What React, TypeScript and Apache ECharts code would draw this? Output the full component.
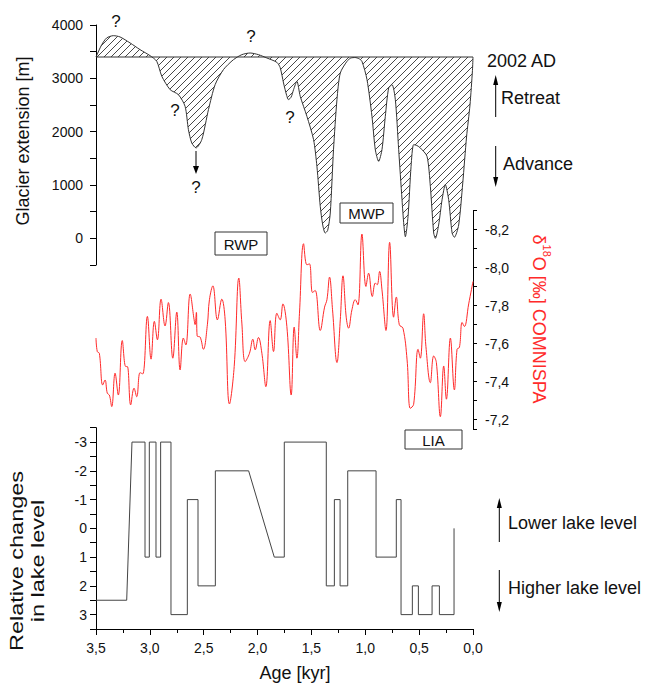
import React, { useEffect, useRef } from 'react';
import * as echarts from 'echarts';

// ---------- data ----------
const glacierAge = [3.5, 3.447, 3.401, 3.339, 3.277, 3.184, 3.091, 2.998, 2.936, 2.889, 2.812, 2.735, 2.673, 2.642, 2.611, 2.571, 2.518, 2.456, 2.394, 2.317, 2.224, 2.146, 2.069, 1.992, 1.914, 1.821, 1.790, 1.759, 1.730, 1.713, 1.688, 1.666, 1.635, 1.604, 1.542, 1.480, 1.449, 1.418, 1.395, 1.372, 1.349, 1.325, 1.295, 1.263, 1.232, 1.170, 1.135, 1.093, 1.060, 1.031, 0.984, 0.938, 0.907, 0.876, 0.845, 0.814, 0.783, 0.752, 0.721, 0.690, 0.659, 0.642, 0.628, 0.603, 0.575, 0.551, 0.520, 0.489, 0.427, 0.396, 0.365, 0.349, 0.319, 0.287, 0.257, 0.226, 0.194, 0.173, 0.133, 0.095, 0.060, 0.028, 0.005, 0.0];
const glacierExt = [3400, 3630, 3757, 3800, 3776, 3664, 3538, 3425, 3319, 3038, 2788, 2694, 2475, 2038, 1788, 1695, 1850, 2413, 2882, 3163, 3350, 3444, 3475, 3444, 3382, 3300, 3200, 2913, 2680, 2600, 2650, 2788, 2944, 2663, 2288, 1850, 1350, 600, 250, 100, 150, 475, 1663, 2600, 3100, 3319, 3380, 3390, 3370, 3319, 2975, 2288, 1663, 1444, 1663, 2288, 2819, 2882, 2600, 1663, 725, 250, 30, 413, 1350, 1756, 1740, 1695, 1538, 975, 100, 0, 250, 725, 1006, 725, 100, 20, 250, 1040, 1900, 2500, 3150, 3400];
const baselineAge = [3.5, 0.0];
const baselineExt = [3400, 3400];

const isoAge = [3.5, 3.488, 3.469, 3.438, 3.416, 3.395, 3.376, 3.354, 3.323, 3.293, 3.256, 3.224, 3.209, 3.178, 3.147, 3.122, 3.091, 3.066, 3.023, 2.989, 2.958, 2.930, 2.896, 2.859, 2.828, 2.787, 2.750, 2.719, 2.689, 2.666, 2.626, 2.589, 2.580, 2.568, 2.561, 2.533, 2.503, 2.466, 2.447, 2.415, 2.373, 2.332, 2.301, 2.261, 2.217, 2.174, 2.146, 2.115, 2.075, 2.044, 2.022, 1.992, 1.960, 1.923, 1.883, 1.852, 1.821, 1.790, 1.765, 1.728, 1.688, 1.660, 1.635, 1.611, 1.573, 1.542, 1.518, 1.490, 1.465, 1.418, 1.378, 1.356, 1.332, 1.304, 1.263, 1.232, 1.207, 1.177, 1.155, 1.124, 1.093, 1.068, 1.031, 0.994, 0.969, 0.935, 0.907, 0.889, 0.867, 0.845, 0.808, 0.774, 0.737, 0.712, 0.684, 0.650, 0.612, 0.582, 0.551, 0.510, 0.489, 0.458, 0.437, 0.396, 0.365, 0.340, 0.303, 0.272, 0.247, 0.210, 0.173, 0.148, 0.126, 0.101, 0.080, 0.040, 0.0];
const isoValue = [-7.629, -7.558, -7.549, -7.382, -7.408, -7.338, -7.329, -7.268, -7.444, -7.329, -7.616, -7.479, -7.479, -7.277, -7.365, -7.320, -7.447, -7.440, -7.743, -7.518, -7.717, -7.620, -7.834, -7.693, -7.816, -7.523, -7.766, -7.461, -7.629, -7.593, -7.861, -7.725, -7.700, -7.764, -7.640, -7.634, -7.570, -7.699, -7.831, -7.904, -7.725, -7.834, -7.725, -7.282, -7.479, -7.945, -7.708, -7.505, -7.549, -7.623, -7.567, -7.632, -7.549, -7.373, -7.721, -7.558, -7.760, -7.725, -7.809, -7.690, -7.329, -7.687, -7.523, -7.760, -8.126, -8.015, -8.020, -7.869, -7.880, -7.669, -7.792, -7.831, -7.950, -7.778, -7.500, -7.725, -7.957, -7.739, -7.681, -7.778, -7.831, -7.804, -8.177, -7.901, -7.971, -7.848, -7.919, -7.910, -7.980, -7.883, -7.669, -8.133, -7.739, -7.845, -7.699, -7.681, -7.514, -7.259, -7.280, -7.570, -7.523, -7.757, -7.584, -7.394, -7.535, -7.500, -7.215, -7.482, -7.307, -7.629, -7.356, -7.570, -7.580, -7.711, -7.690, -7.809, -7.927];

const lakeAge = [3.5, 3.215, 3.166, 3.045, 3.045, 3.005, 3.005, 2.943, 2.943, 2.9, 2.9, 2.804, 2.804, 2.652, 2.652, 2.553, 2.553, 2.392, 2.392, 2.083, 1.845, 1.752, 1.752, 1.362, 1.362, 1.287, 1.287, 1.234, 1.234, 1.163, 1.163, 0.9, 0.9, 0.712, 0.712, 0.668, 0.668, 0.563, 0.563, 0.507, 0.507, 0.38, 0.38, 0.312, 0.312, 0.176, 0.176];
const lakeLevel = [2.5, 2.5, -3, -3, 1, 1, -3, -3, 1, 1, -3, -3, 3, 3, -1, -1, 2, 2, -2, -2, 1, 1, -3, -3, 2, 2, -1, -1, 2, 2, -2, -2, 1, 1, -1, -1, 3, 3, 2, 2, 3, 3, 2, 2, 3, 3, 0];

const periodLabels = ['RWP', 'MWP', 'LIA'];

// ---------- styling ----------
const FONT = "'Liberation Sans', Arial, Helvetica, sans-serif";
const INK = '#111';
const LINE = '#333';
const RED = '#ff2a2a';

const pair = (a: number[], b: number[]) => a.map((v, i) => [v, b[i]]);

const hatchSize = 7;
const hatchSvg =
  `<svg xmlns="http://www.w3.org/2000/svg" width="${hatchSize}" height="${hatchSize}">` +
  `<path d="M0 ${hatchSize} L${hatchSize} 0 M-1 1 L1 -1 M${hatchSize - 1} ${hatchSize + 1} L${hatchSize + 1} ${hatchSize - 1}" stroke="#333" stroke-width="0.9" fill="none"/></svg>`;
const hatch: any = {
  image: 'data:image/svg+xml;charset=utf-8,' + encodeURIComponent(hatchSvg),
  repeat: 'repeat',
  imageWidth: hatchSize,
  imageHeight: hatchSize,
};

function arrow(x: number, yFrom: number, yTip: number, head = 9, hw = 3) {
  const dir = yTip > yFrom ? 1 : -1;
  return [
    { type: 'line', silent: true, shape: { x1: x, y1: yFrom, x2: x, y2: yTip - dir * head }, style: { stroke: '#000', lineWidth: 1 } },
    { type: 'polygon', silent: true, shape: { points: [[x - hw, yTip - dir * head], [x + hw, yTip - dir * head], [x, yTip]] }, style: { fill: '#000' } },
  ];
}

function txt(x: number, y: number, text: string, size: number, align = 'center', extra: any = {}) {
  return {
    type: 'text', silent: true, x, y,
    ...extra,
    style: { text, fontSize: size, fontFamily: FONT, fill: extra.fill || INK, textAlign: align, textVerticalAlign: 'middle' },
  };
}

function box(x: number, y: number, w: number, h: number, label: string) {
  return [
    { type: 'rect', silent: true, shape: { x, y, width: w, height: h }, style: { fill: '#fff', stroke: '#333', lineWidth: 1 } },
    txt(x + w / 2, y + h / 2 + 0.5, label, 15),
  ];
}

const qMarks = [
  [116, 21], [175, 110], [196, 187], [251, 36], [290, 117],
];

export default function App() {
  const ref = useRef<HTMLDivElement>(null);
  useEffect(() => {
    if (!ref.current) return;
    const chart = echarts.init(ref.current, undefined, { renderer: 'svg' });
    const gridL = 96;
    const gridR = 650 - 473;
    const axisLine = { show: true, onZero: false, lineStyle: { color: '#000', width: 1 } };
    const xBase: any = { type: 'value', min: 0, max: 3.5, interval: 0.5, inverse: true, splitLine: { show: false } };

    const option: any = {
      animation: false,
      backgroundColor: '#fff',
      grid: [
        { left: gridL, right: gridR, top: 25, height: 240, outerBoundsMode: 'none', containLabel: false },
        { left: gridL, right: gridR, top: 210.7, height: 218.3, outerBoundsMode: 'none', containLabel: false },
        { left: gridL, right: gridR, top: 427.7, height: 201.3, outerBoundsMode: 'none', containLabel: false },
      ],
      xAxis: [
        { ...xBase, gridIndex: 0, show: false },
        { ...xBase, gridIndex: 1, show: false },
        {
          ...xBase, gridIndex: 2,
          axisLine,
          axisTick: { show: true, length: 6, lineStyle: { color: '#000' } },
          minorTick: { show: true, splitNumber: 2, length: 4, lineStyle: { color: '#000' } },
          axisLabel: {
            formatter: (v: number) => v.toFixed(1).replace('.', ','),
            fontSize: 14, fontFamily: FONT, color: INK, margin: 12,
          },
        },
      ],
      yAxis: [
        {
          type: 'value', gridIndex: 0, min: -500, max: 4000, interval: 500, position: 'left',
          axisLine,
          axisTick: { show: true, length: 6, lineStyle: { color: '#000' } },
          splitLine: { show: false },
          axisLabel: {
            formatter: (v: number) => (Math.abs(v % 1000) < 1e-6 ? String(v) : ''),
            fontSize: 14, fontFamily: FONT, color: INK, margin: 13,
          },
        },
        {
          type: 'value', gridIndex: 1, min: -8.3, max: -7.15, interval: 0.1, inverse: true, position: 'right',
          axisLine,
          axisTick: { show: true, length: 4, lineStyle: { color: '#000' } },
          splitLine: { show: false },
          axisLabel: {
            formatter: (v: number) => {
              const k = Math.round(v * 10);
              if (Math.abs(v * 10 - k) > 1e-6 || k % 2 !== 0) return '';
              return (k / 10).toFixed(1).replace('.', ',');
            },
            fontSize: 14, fontFamily: FONT, color: INK, margin: 12,
          },
        },
        {
          type: 'value', gridIndex: 2, min: -3.5, max: 3.5, interval: 0.5, inverse: true, position: 'left',
          axisLine,
          axisTick: { show: true, length: 6, lineStyle: { color: '#000' } },
          splitLine: { show: false },
          axisLabel: {
            formatter: (v: number) => (Math.abs(v - Math.round(v)) < 1e-6 ? String(Math.round(v) || 0) : ''),
            fontSize: 14, fontFamily: FONT, color: INK, margin: 9,
          },
        },
      ],
      series: [
        {
          type: 'line', xAxisIndex: 0, yAxisIndex: 0, data: pair(glacierAge, glacierExt),
          smooth: 0.25, symbol: 'none', silent: true,
          lineStyle: { color: LINE, width: 1 },
          areaStyle: { origin: 3400, color: hatch, opacity: 1 },
          z: 2,
        },
        {
          type: 'line', xAxisIndex: 0, yAxisIndex: 0, data: pair(baselineAge, baselineExt),
          symbol: 'none', silent: true, lineStyle: { color: LINE, width: 1 }, z: 3,
        },
        {
          type: 'line', xAxisIndex: 1, yAxisIndex: 1, data: pair(isoAge, isoValue),
          smooth: 0.4, symbol: 'none', silent: true, lineStyle: { color: RED, width: 1 },
        },
        {
          type: 'line', xAxisIndex: 2, yAxisIndex: 2, data: pair(lakeAge, lakeLevel),
          symbol: 'none', silent: true, lineStyle: { color: '#444', width: 1 },
        },
      ],
      graphic: [
        ...qMarks.map(([x, y]) => txt(x, y, '?', 17)),
        ...arrow(196, 151, 174, 8, 3),
        txt(487, 61, '2002 AD', 18, 'left'),
        ...arrow(495.7, 117, 75, 10, 2.5),
        txt(501, 98, 'Retreat', 18, 'left'),
        ...arrow(495.7, 146, 187, 10, 2.5),
        txt(503, 164, 'Advance', 18, 'left'),
        ...arrow(499.3, 542, 498, 10, 2.5),
        txt(508, 523, 'Lower lake level', 18, 'left'),
        ...arrow(499.3, 570, 612, 10, 2.5),
        txt(508, 588, 'Higher lake level', 18, 'left'),
        ...box(215, 232, 52, 23, periodLabels[0]),
        ...box(340, 203, 53, 20, periodLabels[1]),
        ...box(405, 430, 57, 19, periodLabels[2]),
        txt(23, 141, 'Glacier extension [m]', 18, 'center', { rotation: Math.PI / 2 }),
        {
          type: 'text', silent: true, x: 27, y: 561, rotation: Math.PI / 2, scaleX: 1.27,
          style: { text: 'Relative changes\nin lake level', fontSize: 18.5, lineHeight: 21, fontFamily: FONT, fill: INK, textAlign: 'center', textVerticalAlign: 'middle' },
        },
        {
          type: 'text', silent: true, x: 541, y: 319, rotation: -Math.PI / 2,
          style: {
            text: '{a|δ}{s|18}{a|O [‰] COMNISPA}',
            fontFamily: FONT, fill: RED, textAlign: 'center', textVerticalAlign: 'middle',
            rich: {
              a: { fontSize: 18, fontFamily: FONT, fill: RED, verticalAlign: 'bottom', lineHeight: 22 },
              s: { fontSize: 11, fontFamily: FONT, fill: RED, verticalAlign: 'top', lineHeight: 22 },
            },
          },
        },
        txt(295, 673, 'Age [kyr]', 18),
      ],
    };
    chart.setOption(option);
    return () => chart.dispose();
  }, []);
  return <div ref={ref} style={{ position: 'fixed', left: 0, top: 0, width: 650, height: 685 }} />;
}
